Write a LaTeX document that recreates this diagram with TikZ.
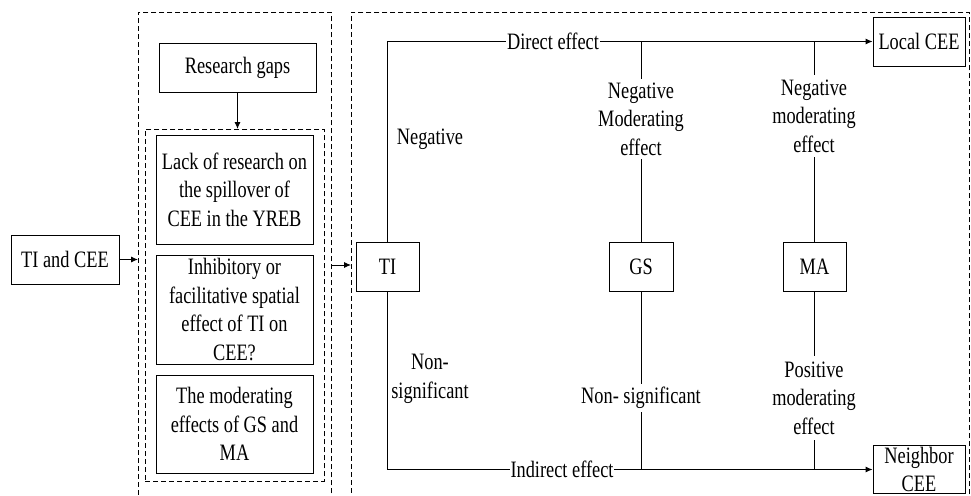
\documentclass[tikz,border=0pt]{standalone}
\usepackage{fontspec}
\setmainfont[FakeStretch=0.78]{Liberation Serif}
\usetikzlibrary{arrows.meta}
\begin{document}
\begin{tikzpicture}[x=1pt,y=-1pt,
  txt/.style={font=\rmfamily\fontsize{23.5}{28.5}\selectfont, align=center, text=black},
  box/.style={draw, line width=0.9pt, inner sep=0pt, txt},
  dbox/.style={draw, line width=0.8pt, dash pattern=on 5pt off 3pt, inner sep=0pt},
  conn/.style={line width=0.9pt},
  arr/.style={conn, -{Latex[length=7pt,width=6pt]}},
  lab/.style={txt, fill=white, inner sep=1pt},
  vlab/.style={txt, fill=white, inner xsep=1pt}]
\useasboundingbox (0,0) rectangle (971,495);
\clip (0,0) rectangle (971,495);

% panels
\node[dbox, anchor=north west, minimum width=193pt, minimum height=520pt] (leftpanel) at (138,12) {};
\node[dbox, anchor=north west, minimum width=618pt, minimum height=520pt] (rightpanel) at (351,12) {};
\node[dbox, anchor=north west, minimum width=179pt, minimum height=352pt] (gaps) at (145,129) {};

% left part
\node[box, minimum width=108pt, minimum height=49pt] (tice) at (65,259.5) {TI and CEE};
\node[box, minimum width=157pt, minimum height=49pt] (rg) at (237.5,67.5) {Research gaps};
\node[box, minimum width=157pt, minimum height=109pt] (g1) at (234.5,189.5) {Lack of research on\\the spillover of\\CEE in the YREB};
\node[box, minimum width=157pt, minimum height=109pt] (g2) at (234.5,309.5) {Inhibitory or\\facilitative spatial\\effect of TI on\\CEE?};
\node[box, minimum width=157pt, minimum height=98pt] (g3) at (234.5,424) {The moderating\\effects of GS and\\MA};

% right part
\node[box, minimum width=63pt, minimum height=49pt] (ti) at (387.5,266.5) {TI};
\node[box, minimum width=64pt, minimum height=49pt] (gs) at (641,266.5) {GS};
\node[box, minimum width=63pt, minimum height=49pt] (ma) at (814.5,266.5) {MA};
\node[box, minimum width=92pt, minimum height=49pt] (local) at (919,41.5) {Local CEE};
\node[box, minimum width=92pt, minimum height=48pt] (nbr) at (919,469.5) {Neighbor\\CEE};

\coordinate (gsT) at (675,41.5);
\coordinate (maT) at (855,41.5);
\coordinate (gsB) at (667,469.5);
\coordinate (maB) at (840,469.5);
\coordinate (mid) at (0,265);

% connectors
\draw[arr] (tice.east) -- (tice.east -| leftpanel.west);
\draw[arr] (rg.south) -- (rg.south |- gaps.north);
\draw[arr] (leftpanel.east |- mid) -- (rightpanel.west |- mid);
\draw[arr] (ti.north) |- (local.west);
\draw[arr] (ti.south) |- (nbr.west);
\draw[conn] (gs.north) |- (gsT);
\draw[conn] (ma.north) |- (maT);
\draw[conn] (gs.south) |- (gsB);
\draw[conn] (ma.south) |- (maB);

% labels
\node[lab] (lde) at (553,41.5) {Direct effect};
\node[lab] (lie) at (562,469.5) {Indirect effect};
\node[txt, inner sep=0pt] (lneg) at (430,139) {Negative};
\node[txt, inner sep=0pt] (lns) at (430,379) {Non-\\significant};
\node[vlab, inner ysep=4pt] (lgs1) at (641,119) {Negative\\Moderating\\effect};
\node[vlab, inner ysep=5pt] (lma1) at (814,116) {Negative\\moderating\\effect};
\node[vlab, inner ysep=3.5pt] (lgs2) at (641,398) {Non- significant};
\node[vlab, inner ysep=6pt] (lma2) at (814,398) {Positive\\moderating\\effect};
\end{tikzpicture}
\end{document}
